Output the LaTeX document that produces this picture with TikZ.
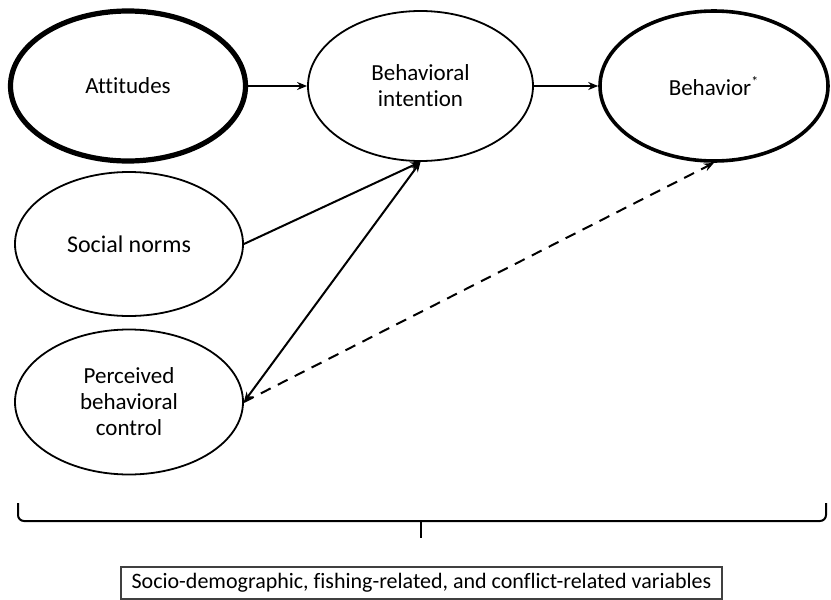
\documentclass[tikz,border=0pt]{standalone}
\usepackage{fontspec}
\setmainfont{Carlito}[Ligatures={NoCommon}]
\usetikzlibrary{shapes.geometric,arrows.meta}
\begin{document}
\begin{tikzpicture}[x=0.5pt,y=-0.5pt,
  ell/.style={ellipse,draw,line width=0.9pt,inner sep=0pt,align=center,
    font=\fontsize{11.5}{13}\selectfont},
  arr/.style={-{Stealth[length=5pt,width=4pt]},line width=1pt},
  dasharr/.style={arr,dash pattern=on 5.5pt off 4pt},
  bracepath/.style={line width=1pt,rounded corners=3pt},
  varbox/.style={draw=black!75,line width=0.6pt,minimum width=300.5pt,minimum height=16pt,
    inner sep=0pt,font=\fontsize{11}{13}\selectfont}
]
\useasboundingbox (0,0) rectangle (831,600);
\node[ell,line width=2.6pt,minimum width=117.5pt,minimum height=75pt] (att) at (128,86) {Attitudes};
\node[ell,minimum width=112.5pt,minimum height=75pt] (bi) at (420.5,86) {Behavioral\\intention};
\node[ell,line width=1.8pt,minimum width=114pt,minimum height=75pt] (beh) at (714,86) {Behavior\textsuperscript{\scriptsize *}};
\node[ell,minimum width=114pt,minimum height=72pt,font=\fontsize{12}{14}\selectfont] (sn) at (129,244) {Social norms};
\node[ell,minimum width=114pt,minimum height=72.5pt] (pbc) at (129,402) {Perceived\\behavioral\\control};

\draw[arr] (att.east) -- (bi.west);
\draw[arr] (bi.east) -- (beh.west);
\draw[arr] (sn.east) -- (bi.south);
\draw[arr,{Stealth[length=5pt,width=4pt]}-{Stealth[length=5pt,width=4pt]}] (pbc.east) -- (bi.south);
\draw[dasharr] (pbc.east) -- (beh.south);

\coordinate (bl) at (18,503);
\coordinate (br) at (826,503);
\coordinate (bm) at (421,521);
\coordinate (bt) at (421,538);
\draw[bracepath] (bl) -- (bl |- bm) -- (br |- bm) -- (br);
\draw[line width=1pt] (bm) -- (bt);

\node[varbox] (var) at (421.5,583) {Socio-demographic, fishing-related, and conflict-related variables};
\end{tikzpicture}
\end{document}
